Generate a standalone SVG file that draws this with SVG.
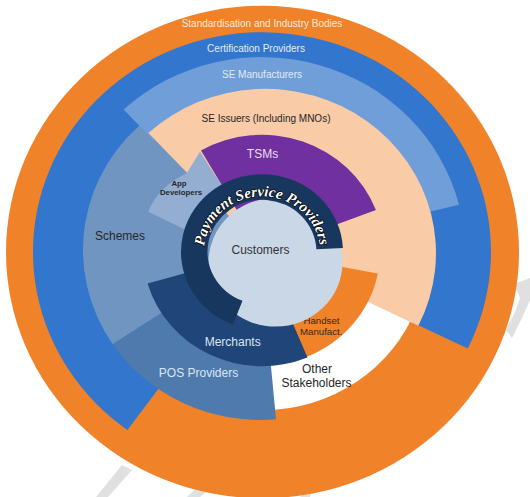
<svg xmlns="http://www.w3.org/2000/svg" width="530" height="497" viewBox="0 0 530 497">
<style>
text{font-family:"Liberation Sans",Arial,sans-serif;text-anchor:middle}
.lt{fill:#e4ebf5;font-size:10px}
.dk{fill:#262626}
.big{font-size:12px}
.wm{fill:#e0e0e0}
</style>
<rect width="530" height="497" fill="#ffffff"/>
<g id="watermark">
<polygon class="wm" points="96,497 122,465 132,470 108,497"/>
<polygon class="wm" points="187,497 205,480 215,485 200,497"/>
<polygon class="wm" points="300,497 305,490 312,492 310,497"/>
<polygon class="wm" points="514,284 530,278 530,300 522,318 512,338 506,330 515,312 520,298"/>
</g>
<g id="standardisation-bodies">
<circle cx="262.5" cy="252" r="256.5" fill="#f0832a" transform="matrix(1 0 0 0.96 0 10.08)"/>
<text x="262" y="27" style="fill:#fbeadf;font-size:10px">Standardisation and Industry Bodies</text>
</g>
<g id="certification-providers">
<path d="M262,252 L127.4,437.3 A229,229 0 1 1 467.8,352.4 Z" fill="#3376cd" transform="matrix(1 0 0 0.96 0 10.08)"/>
<text class="lt" x="256" y="52">Certification Providers</text>
</g>
<g id="other-stakeholders">
<path d="M262,252 L417.05,308.43 A165,165 0 0 1 262,417 Z" fill="#ffffff" transform="matrix(1 0 0 0.96 0 10.08)"/>
</g>
<g id="schemes">
<path d="M260,249.9 L112.7,348.1 A177,177 0 0 1 151,110.4 Z" fill="#7195c1" transform="matrix(1 0 0 0.96 0 10.08)"/>
<text class="dk big" x="120" y="240">Schemes</text>
</g>
<g id="pos-providers">
<path d="M260,249.9 L276,426.2 A177,177 0 0 1 112.7,348.1 Z" fill="#4f7aae" transform="matrix(1 0 0 0.96 0 10.08)"/>
<text x="198.5" y="377.3" style="fill:#dde6f1;font-size:12px">POS Providers</text>
</g>
<g id="se-manufacturers">
<path d="M123.6,103.5 A203,203 0 0 1 459,202.9 L417.2,213.3 A160,160 0 0 0 152.9,135 Z" fill="#6f9ed9" transform="matrix(1 0 0 0.96 0 10.08)"/>
<text class="lt" x="262" y="77.5">SE Manufacturers</text>
</g>
<g id="se-issuers">
<path d="M265,253.04 L148.4,127.97 A171,171 0 0 1 418.3,328.8 Z" fill="#f9cba6" transform="matrix(1 0 0 0.96 0 10.08)"/>
<text class="dk" x="266" y="122" style="font-size:10px">SE Issuers (Including MNOs)</text>
</g>
<g id="handset-manufacturers">
<path d="M262,252 L377.8,274.5 A118,118 0 0 1 306.2,361.4 Z" fill="#f0832a" transform="matrix(1 0 0 0.96 0 10.08)"/>
<text x="321.5" y="324" style="fill:#3a2616;font-size:9.7px">Handset</text>
<text x="321.2" y="335.3" style="fill:#3a2616;font-size:9.7px">Manufact.</text>
</g>
<g id="merchants">
<path d="M262,252 L307.5,361.9 A119,119 0 0 1 147.6,284.8 Z" fill="#1f4579" transform="matrix(1 0 0 0.96 0 10.08)"/>
<text x="232.7" y="346" style="fill:#dde6f1;font-size:12px">Merchants</text>
</g>
<g id="tsms">
<path d="M262,252 L201,146.3 A122,122 0 0 1 375.9,208.3 Z" fill="#7030a0" transform="matrix(1 0 0 0.96 0 10.08)"/>
<text x="262.5" y="158.3" style="fill:#eadff3;font-size:12px">TSMs</text>
</g>
<g id="app-developers">
<path d="M148.3,210 Q158,184.3 186.7,170 L200,147.5 L226,189.5 L184.5,228.4 Z" fill="#94aed2" transform="matrix(1 0 0 0.96 0 10.08)"/>
<text class="dk" x="179" y="185.5" style="font-size:7.8px;font-weight:bold">App</text>
<text class="dk" x="181" y="194.5" style="font-size:7.8px;font-weight:bold">Developers</text>
</g>
<g id="other-stakeholders-label">
<text class="dk big" x="317" y="372.7">Other</text>
<text class="dk big" x="316.5" y="386.7">Stakeholders</text>
</g>
<g id="customers">
<circle cx="275.5" cy="262.7" r="67" fill="#c9d7e7" transform="matrix(1 0 0 0.96 0 10.08)"/>
<text class="dk big" x="260.5" y="254" style="fill:#333333">Customers</text>
</g>
<g id="payment-service-providers">
<path d="M233,327.6 A81,81 0 1 1 342.9,247.76 L316.4,249.15 A54.5,54.5 0 1 0 242.5,302.9 Z" fill="#18375f" transform="matrix(1 0 0 0.96 0 10.08)"/>
<path id="pspArc" d="M204.3,246.2 A58,55.7 0 0 1 319.4,244.25" fill="none"/>
<text style="font-family:'Liberation Serif','Times New Roman',serif;font-size:15px;font-weight:bold;font-style:italic;fill:#ffffff;stroke:#000000;stroke-width:1.3px;paint-order:stroke;text-anchor:start"><textPath href="#pspArc" textLength="166" lengthAdjust="spacing">Payment Service Providers</textPath></text>
</g>
<g id="connectors"/>
</svg>
